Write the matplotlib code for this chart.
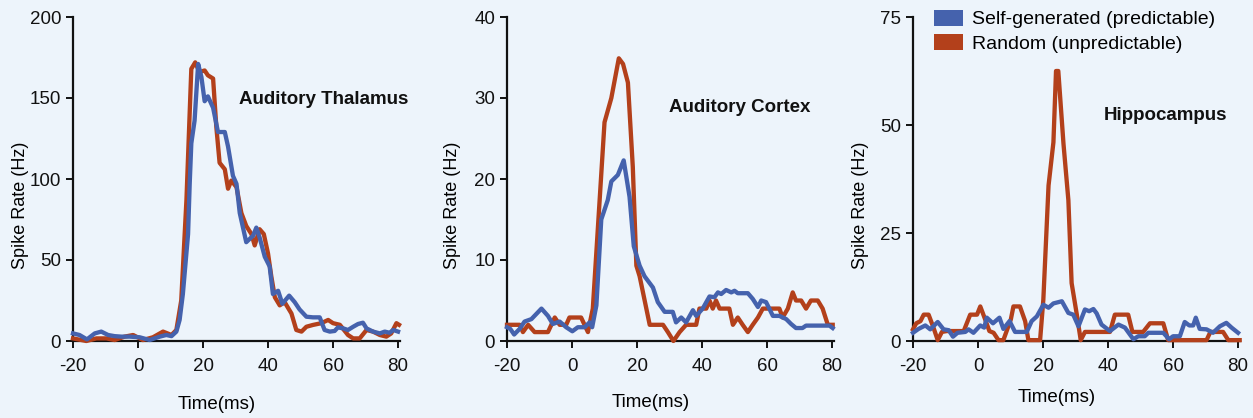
import matplotlib
matplotlib.use("Agg")
import matplotlib.pyplot as plt
from matplotlib.patches import Patch

plt.rcParams['font.family'] = ['Liberation Sans', 'DejaVu Sans']
plt.rcParams['axes.unicode_minus'] = False

# ---- data (time in ms, spike rate in Hz) ----
thal_self_t = [-20, -18, -15.7, -13.3, -11.3, -9.2, -7.2, -5.1, -2.6, 0.5, 3.6, 6.7, 8.7, 10.3, 11.8,
               12.8, 13.8, 15.4, 15.9, 16.4, 17.4, 18.5, 19.5, 20.5, 21.5, 23.1, 24.6, 26.7, 27.7,
               29.2, 30.3, 31.3, 32.3, 33.3, 35.4, 36.4, 37.4, 39.0, 40.5, 41.5, 43.1, 44.4, 46.5,
               48.2, 49.7, 51.8, 53.8, 55.9, 57.4, 59.0, 60.5, 61.5, 63.1, 64.6, 66.2, 67.7, 69.2,
               70.3, 72.3, 74.4, 75.9, 77.4, 78.5, 80]
thal_self_v = [4.7, 3.7, 1, 4.7, 5.8, 3.7, 3, 2.7, 2.7, 2.3, 0.6, 2.7, 3.7, 3, 5.8,
               13, 29, 66, 97, 122, 136, 171, 163, 148, 151, 144, 129, 129, 120,
               102, 97, 79, 70, 61, 65, 70, 64, 52, 46, 29, 31, 23, 28,
               24, 19.5, 15, 14.6, 14.6, 6.8, 5.8, 6.2, 8.4, 7.8, 6.8, 8.8, 10.5, 11.3,
               7.8, 5.8, 4.7, 5.8, 5.1, 6.8, 5.8]
thal_rand_t = [-20, -15.9, -12.8, -9.7, -7.2, -4.1, -1.5, 1.5, 4.6, 7.7, 10.3, 11.8, 13.3, 14.9,
               16.4, 17.6, 18.9, 20.5, 21.5, 23.1, 24.1, 25.1, 26.7, 27.7, 28.7, 30.3, 31.8,
               33.3, 34.9, 35.9, 37.4, 38.7, 40.0, 41.0, 42.1, 43.6, 45.1, 47.2, 48.7, 50.3,
               51.8, 53.8, 56.4, 58.5, 60, 62.1, 64.6, 66.2, 68.2, 70.3, 72.3, 74.4, 76.4,
               77.9, 79.5, 80.3]
thal_rand_v = [1.6, 0, 1.6, 1.6, 0.6, 2.7, 3.7, 0.6, 2.3, 5.8, 3.7, 6.8, 25, 87,
               168, 172, 166, 167, 164, 162, 132, 110, 106, 94, 99, 95, 79,
               71, 66, 59, 69, 66, 54, 40, 27, 22, 24, 17, 6.8, 5.8,
               8.8, 9.9, 11, 13, 11, 10, 3.7, 1.6, 1.6, 6.8, 5.8, 3.7, 2.7,
               4.7, 11, 10]

ctx_self_t = [-20, -19, -17.8, -16.1, -14.6, -12.5, -9.4, -7.4, -5.9, -3.8, -1.8, 0.1, 1.8, 3.9,
              5.4, 6.2, 7.5, 9.0, 11.0, 12.1, 14.1, 15.9, 17.7, 19, 20.8, 22.3, 24.9, 26.4,
              28.5, 31, 32, 33.6, 35.1, 37.2, 38.2, 40.2, 42.3, 43.8, 44.9, 45.9, 47.4, 49,
              50, 51, 54.1, 55.6, 57.2, 58.2, 59.7, 61.8, 63.8, 65.9, 67.4, 68.9, 70.9, 72,
              77.1, 79.2, 80.2]
ctx_self_v = [1.7, 1.5, 0.8, 1.5, 2.4, 2.7, 4, 3.1, 2.1, 2.4, 1.7, 1.2, 1.7, 1.7,
              2.3, 1.7, 4.4, 15, 17.4, 19.7, 20.5, 22.3, 17.8, 11.7, 9.3, 8, 6.6, 4.8,
              3.6, 3.6, 2.3, 2.9, 2.3, 3.8, 3.1, 4, 5.5, 5.4, 6, 5.8, 6.3, 6,
              6.2, 5.9, 5.9, 5.2, 4.2, 5, 4.8, 3.1, 3.1, 2.7, 2.1, 1.6, 1.6, 1.9,
              1.9, 1.9, 1.6]
ctx_rand_t = [-20, -16.1, -15.1, -13.5, -11.5, -7.4, -5.3, -3.8, -1.8, -0.8, 2.8, 4.9, 6.4, 8.5,
              10.0, 12.1, 14.4, 15.7, 17.2, 18.7, 19.8, 20.8, 23.9, 28, 29.5, 31.2, 33.1, 35.1,
              38.2, 39.2, 41.3, 42.3, 43.3, 44.3, 45.4, 48.4, 49.5, 51, 52.5, 54.1, 55.6, 57.2,
              58.7, 63.8, 64.8, 66.4, 67.9, 68.9, 70.5, 72, 73.5, 75.6, 77.1, 78.7, 80.2]
ctx_rand_v = [2, 2, 1.1, 2, 1.1, 1.1, 2.9, 2, 2, 2.9, 2.9, 1.1, 4, 17.4,
              27, 30, 34.9, 34.2, 31.9, 21.5, 9.3, 8, 2, 2, 1.1, 0, 1.1, 2,
              2, 4, 4, 5, 4, 5, 4, 4, 2, 2.9, 2, 1.1, 2, 2.9,
              4, 4, 2.9, 4, 6, 5, 5, 4, 5, 5, 4, 2, 2]

hip_self_t = [-20, -18.3, -16.2, -14.7, -12.4, -10.6, -9, -7.7, -6.3, -3.9, -2.9, -1.4, 0.7, 1.9,
              2.7, 4.6, 6.6, 7.8, 9.7, 11.4, 15, 16.5, 18.1, 20.1, 21.7, 23.2, 25.8, 27.8,
              29.3, 30.9, 32.9, 34.2, 35.5, 36.5, 38, 40.6, 43.2, 45.2, 47.8, 49.3, 51.3, 52.4,
              57, 58.8, 60, 62.1, 63.6, 65, 66.2, 67, 68.2, 70.3, 72.3, 74.4, 76.4, 78, 80]
hip_self_v = [1.9, 2.8, 3.6, 2.7, 4.4, 2.7, 2.5, 1, 1.9, 2.1, 2.7, 1.9, 3.6, 3.1,
              5.4, 4.1, 5.4, 2.8, 4.6, 2.1, 2.1, 4.6, 5.7, 8.4, 7.7, 8.7, 9.2, 6.5,
              6.1, 3.4, 7.3, 6.9, 7.4, 6.4, 3.8, 2.3, 3.8, 3.1, 0.4, 1.1, 1.1, 1.9,
              1.9, 0.4, 1.1, 1.1, 4.4, 3.6, 3.6, 5.4, 2.8, 2.7, 1.9, 3.4, 4.2, 3.1, 1.9]
hip_rand_t = [-20, -19, -17.7, -16.7, -15.2, -13.7, -12.4, -11.1, -9.6, -4.4, -2.4, -0.3, 0.7, 2.2,
              3.5, 4.8, 6.3, 7.8, 10.1, 10.9, 12.9, 14.5, 15.5, 19.1, 20.1, 21.7, 23.2, 24,
              24.7, 26.3, 27.8, 28.8, 30.4, 31.6, 32.9, 40.6, 42.1, 46.2, 47.5, 50.8, 52.9, 57,
              58.5, 70.3, 71.5, 75.4, 77, 80.5]
hip_rand_v = [2.7, 4.1, 4.6, 6.1, 6.1, 3.1, 0.2, 2.1, 2.3, 2.3, 6.1, 6.1, 8, 5,
              2.3, 1.9, 0.2, 0.2, 5, 8, 8, 4.6, 0.2, 0.2, 9.6, 36, 46, 62.5,
              62.5, 45.6, 32.6, 13.4, 6.1, 0.2, 2.1, 2.1, 6.1, 6.1, 2.1, 2.1, 4.1, 4.1,
              0.2, 0.2, 2.1, 2.1, 0.2, 0.2]

regions = ["Auditory Thalamus", "Auditory Cortex", "Hippocampus"]
y_ticks = [[0, 50, 100, 150, 200], [0, 10, 20, 30, 40], [0, 25, 50, 75]]
x_ticks = [-20, 0, 20, 40, 60, 80]
legend_labels = ["Self-generated (predictable)", "Random (unpredictable)"]

blue = "#4562ad"
red = "#b3401b"
bg = "#edf4fb"

fig = plt.figure(figsize=(12.53, 4.18), dpi=100, facecolor=bg)
W, H = 1253, 418
lefts = [73, 507, 913]
series = [(thal_self_t, thal_self_v, thal_rand_t, thal_rand_v),
          (ctx_self_t, ctx_self_v, ctx_rand_t, ctx_rand_v),
          (hip_self_t, hip_self_v, hip_rand_t, hip_rand_v)]
title_pos = [(57, 149), (51.7, 28.8), (57.8, 52.3)]
xlab_y = [-0.17, -0.163, -0.147]
ylab_x = [-0.135, -0.141, -0.135]

for i in range(3):
    ax = fig.add_axes([lefts[i] / W, 1 - 341 / H, 327 / W, 324 / H])
    ax.set_facecolor(bg)
    st, sv, rt, rv = series[i]
    ax.plot(rt, rv, color=red, lw=3.1, solid_joinstyle='round', clip_on=False, zorder=3)
    ax.plot(st, sv, color=blue, lw=3.1, solid_joinstyle='round', clip_on=False, zorder=4)
    ax.set_xlim(-20, 80.6)
    ax.set_ylim(0, y_ticks[i][-1])
    ax.set_xticks(x_ticks)
    ax.set_yticks(y_ticks[i])
    for s in ["top", "right"]:
        ax.spines[s].set_visible(False)
    for s in ["left", "bottom"]:
        ax.spines[s].set_linewidth(1.6)
        ax.spines[s].set_color("#111111")
    ax.tick_params(direction='out', length=5, width=1.4, labelsize=13.5, colors="#111111")
    ax.tick_params(axis='x', pad=7)
    ax.set_xlabel("Time(ms)", fontsize=13.5)
    ax.set_ylabel("Spike Rate (Hz)", fontsize=13)
    ax.xaxis.set_label_coords(0.44, xlab_y[i])
    ax.yaxis.set_label_coords(ylab_x[i], 0.42)
    tx, ty = title_pos[i]
    ax.text(tx, ty, regions[i], fontsize=13.5, fontweight='bold', ha='center', va='center',
            color="#111111")

handles = [Patch(facecolor=blue, edgecolor='none'), Patch(facecolor=red, edgecolor='none')]
fig.legend(handles, legend_labels, loc='upper left', bbox_to_anchor=(934 / W, 1 - 10 / H),
           frameon=False, fontsize=14, handlelength=1.5, handleheight=0.85,
           handletextpad=0.45, labelspacing=0.3, borderpad=0, borderaxespad=0)

fig.savefig("out.png", dpi=100, facecolor=bg)
